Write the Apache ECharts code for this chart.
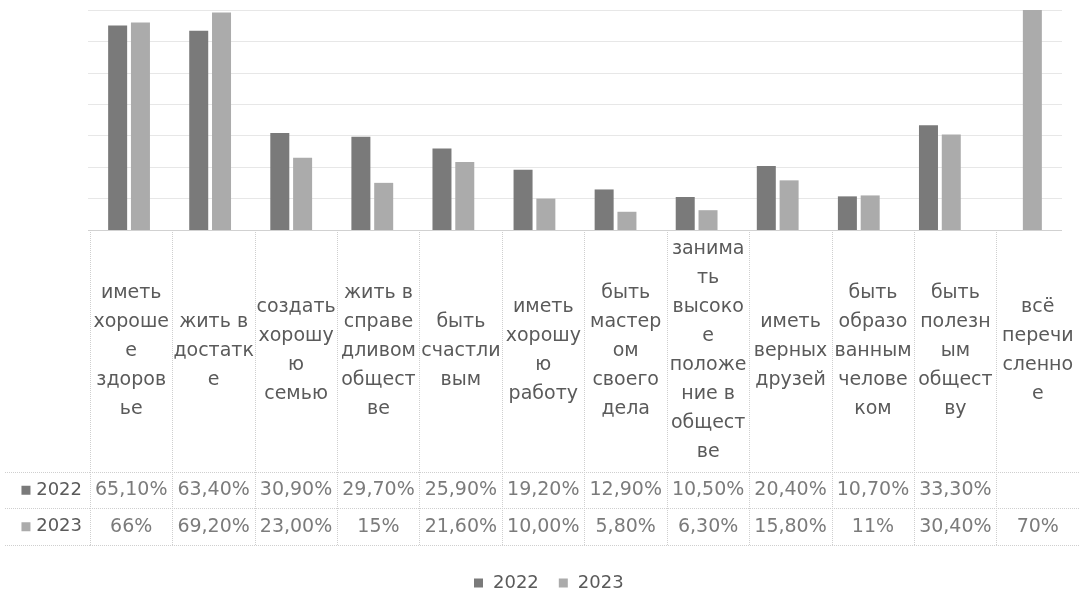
<!DOCTYPE html>
<html>
<head>
<meta charset="utf-8">
<script src="https://cdn.jsdelivr.net/npm/echarts@6/dist/echarts.min.js"></script>
<style>html,body{margin:0;padding:0;background:#fff}#c{width:1079px;height:592px}</style>
</head>
<body>
<div id="c"></div>
<script>
// Categories (wrapped as in the data table cells)
var categories = [
  'иметь\nхороше\nе\nздоров\nье',
  'жить в\nдостатк\nе',
  'создать\nхорошу\nю\nсемью',
  'жить в\nсправе\nдливом\nобщест\nве',
  'быть\nсчастли\nвым',
  'иметь\nхорошу\nю\nработу',
  'быть\nмастер\nом\nсвоего\nдела',
  'занима\nть\nвысоко\nе\nположе\nние в\nобщест\nве',
  'иметь\nверных\nдрузей',
  'быть\nобразо\nванным\nчелове\nком',
  'быть\nполезн\nым\nобщест\nву',
  'всё\nперечи\nсленно\nе'
];
var seriesNames = ['2022', '2023'];
var values2022 = [65.1, 63.4, 30.9, 29.7, 25.9, 19.2, 12.9, 10.5, 20.4, 10.7, 33.3, null];
var values2023 = [66, 69.2, 23.0, 15, 21.6, 10.0, 5.8, 6.3, 15.8, 11, 30.4, 70];
var labels2022 = ['65,10%', '63,40%', '30,90%', '29,70%', '25,90%', '19,20%', '12,90%', '10,50%', '20,40%', '10,70%', '33,30%', ''];
var labels2023 = ['66%', '69,20%', '23,00%', '15%', '21,60%', '10,00%', '5,80%', '6,30%', '15,80%', '11%', '30,40%', '70%'];

var colors = ['#7a7a7a', '#ababab'];
var textColor = '#5a5a5a';
var font = 'DejaVu Sans';
var lineCol = '#cfcfcf';

var tableData = [];
[labels2022, labels2023].forEach(function (arr, r) {
  arr.forEach(function (t, i) { tableData.push([i, r, t]); });
});

var chart = echarts.init(document.getElementById('c'));
chart.setOption({
  animation: false,
  textStyle: { fontFamily: font },
  color: colors,
  grid: [
    { left: 88.5, top: 10, width: 973, height: 220 },
    { left: 90, top: 230, width: 997, height: 242 },
    { left: 90, top: 472, width: 997, height: 73 }
  ],
  legend: {
    data: seriesNames,
    left: 469, top: 569,
    icon: 'rect', itemWidth: 9, itemHeight: 9, itemGap: 20,
    textStyle: { fontFamily: font, fontSize: 18, color: textColor, padding: [0, 0, 0, 5] }
  },
  xAxis: [
    { type: 'category', gridIndex: 0, data: categories,
      axisLine: { show: true, lineStyle: { color: lineCol, type: 'dotted' } },
      axisTick: { show: false }, axisLabel: { show: false } },
    { type: 'category', gridIndex: 1, data: categories,
      axisLine: { show: false }, axisTick: { show: false },
      splitLine: { show: true, interval: 0, lineStyle: { color: lineCol, type: 'dotted' } },
      axisLabel: { show: true, interval: 0, margin: -121, verticalAlign: 'middle',
        fontFamily: font, fontSize: 19, lineHeight: 29, color: textColor, align: 'center' } },
    { type: 'category', gridIndex: 2, data: categories,
      axisLine: { show: false }, axisTick: { show: false }, axisLabel: { show: false },
      splitLine: { show: true, interval: 0, lineStyle: { color: lineCol, type: 'dotted' } } }
  ],
  yAxis: [
    { type: 'value', gridIndex: 0, min: 0, max: 70, interval: 10,
      axisLine: { show: false }, axisTick: { show: false }, axisLabel: { show: false },
      splitLine: { show: true, lineStyle: { color: lineCol, type: 'dotted' } } },
    { type: 'value', gridIndex: 1, show: false },
    { type: 'category', gridIndex: 2, data: seriesNames, inverse: true,
      axisLine: { show: false },
      axisTick: { show: true, length: 85, interval: 0, lineStyle: { color: lineCol, type: 'dotted' } },
      splitLine: { show: true, interval: 0, lineStyle: { color: lineCol, type: 'dotted' } },
      axisLabel: { show: true, margin: 8, fontFamily: font, fontSize: 18, color: textColor,
        formatter: function (v, i) { return '{s' + i + '|} ' + v; },
        rich: {
          s0: { width: 9, height: 9, backgroundColor: colors[0] },
          s1: { width: 9, height: 9, backgroundColor: colors[1] }
        } } }
  ],
  series: [
    { name: seriesNames[0], type: 'bar', xAxisIndex: 0, yAxisIndex: 0, data: values2022,
      barWidth: 19, barGap: '20%', itemStyle: { color: colors[0] } },
    { name: seriesNames[1], type: 'bar', xAxisIndex: 0, yAxisIndex: 0, data: values2023,
      barWidth: 19, barGap: '20%', itemStyle: { color: colors[1] } },
    { name: 'table', type: 'scatter', xAxisIndex: 2, yAxisIndex: 2, data: tableData,
      symbolSize: 1, itemStyle: { color: 'transparent' }, silent: true,
      label: { show: true, position: 'inside', fontFamily: font, fontSize: 19, color: textColor,
        formatter: function (p) { return p.value[2]; } } }
  ]
});
</script>
</body>
</html>
